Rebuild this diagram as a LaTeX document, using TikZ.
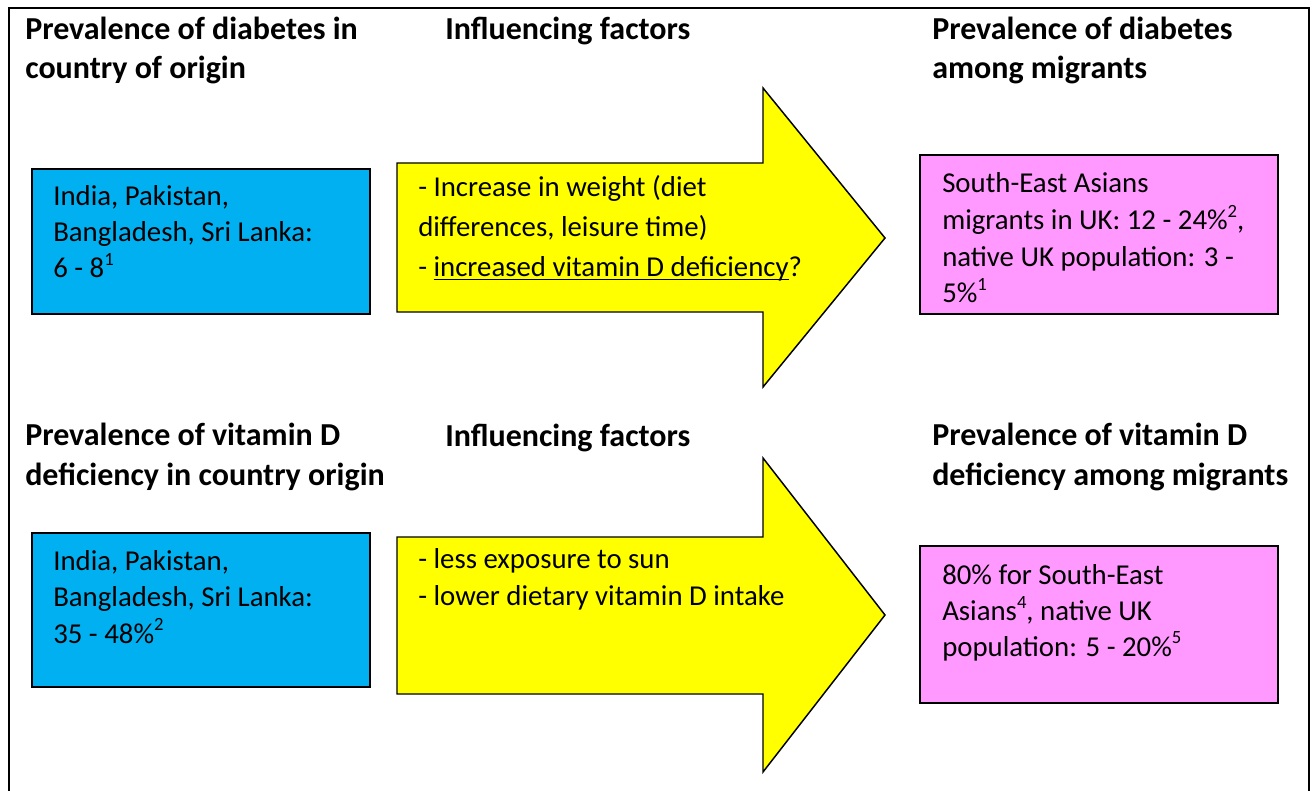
\documentclass[tikz,border=0pt]{standalone}
\usepackage{fontspec}
\setmainfont{Carlito}
\usetikzlibrary{fit}
\definecolor{boxblue}{HTML}{00B0F0}
\definecolor{boxpink}{HTML}{FF99FF}
\definecolor{arrowyellow}{HTML}{FFFF00}
\newcommand\myul[1]{\setbox0\hbox{#1}\rlap{\rule[-2.6pt]{\wd0}{0.9pt}}\box0}
\newcommand\mysup[1]{\raisebox{0.42em}{\fontsize{14}{14}\selectfont #1}}
\begin{document}
\begin{tikzpicture}[x=0.75pt,y=-0.75pt,
  box/.style={draw=black, line width=1.1pt, inner sep=0pt},
  arrowshape/.style={draw=black, line width=1.1pt, fill=arrowyellow, line join=miter},
  head/.style={font=\fontsize{24}{29.6}\selectfont\bfseries, anchor=base west, inner sep=0pt, align=left},
  body/.style={font=\fontsize{21.6}{27.3}\selectfont, anchor=base west, inner sep=0pt, align=left}]
\useasboundingbox (0,0) rectangle (1314,791);
\fill[white] (0,0) rectangle (1314,791);
% frame
\draw[line width=1.6pt] (9,791) -- (9,8) -- (1309,8) -- (1309,791);

% headings (anchored at the baseline of the last line)
\node[head] (h1) at (25,79) {Prevalence of diabetes in\\country of origin};
\node[head] (h2) at (445,40) {Influencing factors};
\node[head] (h3) at (932,79) {Prevalence of diabetes\\among migrants};
\node[head] (h4) at (25,485) {Prevalence of vitamin D\\deficiency in country origin};
\node[head] (h5) at (445,447) {Influencing factors};
\node[head] (h6) at (932,485) {Prevalence of vitamin D\\deficiency among migrants};

% row 1
\node[box, fill=boxblue, fit={(32,169) (370,314)}] (b1) {};
\node[body] (t1) at (53,278) {India, Pakistan,\\Bangladesh, Sri Lanka:\\6 - 8\mysup{1}};
\draw[arrowshape] (397,163) -- (763,163) -- (763,88) -- (885,238) -- (763,387) -- (763,312) -- (397,312) -- cycle;
\node[body, font=\fontsize{21.6}{30}\selectfont] (a1) at (418,277) {- Increase in weight (diet\\differences, leisure time)\\- \myul{increased vitamin D deficiency}?};
\node[box, fill=boxpink, fit={(920,155) (1278,314)}] (p1) {};
\node[body, font=\fontsize{21.6}{27.6}\selectfont] (q1) at (942,303) {South-East Asians\\migrants in UK: 12 - 24\%\mysup{2},\\native UK population: 3 -\\5\%\mysup{1}};

% row 2
\node[box, fill=boxblue, fit={(32,533) (370,687)}] (b2) {};
\node[body] (t2) at (53,643) {India, Pakistan,\\Bangladesh, Sri Lanka:\\35 - 48\%\mysup{2}};
\draw[arrowshape] (397,537) -- (763,537) -- (763,458) -- (885,615) -- (763,772) -- (763,694) -- (397,694) -- cycle;
\node[body, font=\fontsize{21.6}{27.7}\selectfont] (a2) at (418,605) {- less exposure to sun\\- lower dietary vitamin D intake};
\node[box, fill=boxpink, fit={(920,546) (1278,703)}] (p2) {};
\node[body, font=\fontsize{21.6}{26.7}\selectfont] (q2) at (942,656) {80\% for South-East\\Asians\mysup{4}, native UK\\population: 5 - 20\%\mysup{5}};
\end{tikzpicture}
\end{document}
